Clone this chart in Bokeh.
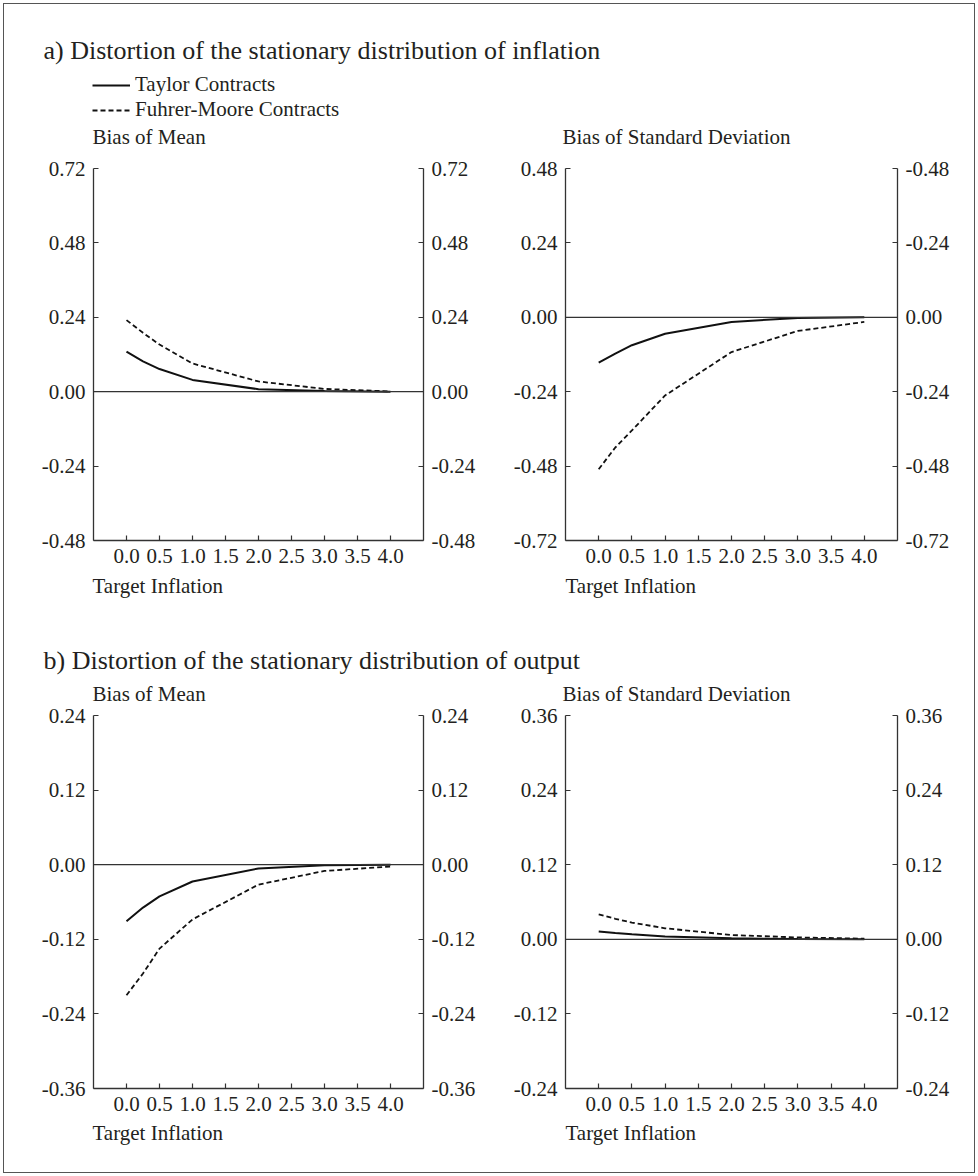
from bokeh.plotting import figure
from bokeh.models import (Range1d, LinearAxis, FixedTicker, NumeralTickFormatter, Span,
                          Label, Legend, LegendItem, ColumnDataSource)
from bokeh.layouts import column, row
from bokeh.embed import file_html
from bokeh.resources import INLINE

# ---------------- data ----------------
target_inflation = [0.0, 0.25, 0.5, 1.0, 2.0, 3.0, 4.0]
x_ticks = [0.0, 0.5, 1.0, 1.5, 2.0, 2.5, 3.0, 3.5, 4.0]

infl_mean_taylor = [0.129, 0.098, 0.073, 0.038, 0.008, 0.002, 0.000]
infl_mean_fm = [0.231, 0.190, 0.152, 0.091, 0.033, 0.009, 0.001]
infl_sd_taylor = [-0.146, -0.117, -0.090, -0.053, -0.015, -0.002, 0.000]
infl_sd_fm = [-0.490, -0.420, -0.365, -0.252, -0.112, -0.044, -0.015]
out_mean_taylor = [-0.091, -0.069, -0.051, -0.027, -0.006, -0.001, 0.000]
out_mean_fm = [-0.210, -0.175, -0.135, -0.088, -0.032, -0.010, -0.003]
out_sd_taylor = [0.0125, 0.010, 0.008, 0.0045, 0.0015, 0.0005, 0.000]
out_sd_fm = [0.040, 0.033, 0.027, 0.0177, 0.0069, 0.003, 0.001]

yticks_infl_mean = [-0.48, -0.24, 0.0, 0.24, 0.48, 0.72]
yticks_infl_sd = [-0.72, -0.48, -0.24, 0.0, 0.24, 0.48]
yticks_out_mean = [-0.36, -0.24, -0.12, 0.0, 0.12, 0.24]
yticks_out_sd = [-0.24, -0.12, 0.0, 0.12, 0.24, 0.36]
infl_sd_right_labels = {0.48: "-0.48", 0.24: "-0.24"}

title_a = "a) Distortion of the stationary distribution of inflation"
title_b = "b) Distortion of the stationary distribution of output"
legend_labels = ["Taylor Contracts", "Fuhrer-Moore Contracts"]
sub_mean = "Bias of Mean"
sub_sd = "Bias of Standard Deviation"
x_label = "Target Inflation"

# ---------------- style ----------------
FONT = "Liberation Serif"
TXT = "#231f20"
AX = "#333333"
LINE = "#111111"
FS = "21px"
TFS = "26px"
NAN = float("nan")


def style_axis(ax, ticks, fmt, overrides=None):
    ax.ticker = FixedTicker(ticks=ticks)
    ax.formatter = NumeralTickFormatter(format=fmt)
    ax.axis_line_color = AX
    ax.axis_line_width = 1.3
    ax.major_tick_in = 5
    ax.major_tick_out = 0
    ax.major_tick_line_color = AX
    ax.major_tick_line_width = 1.2
    ax.minor_tick_line_color = None
    ax.major_label_text_font = FONT
    ax.major_label_text_font_size = FS
    ax.major_label_text_color = TXT
    ax.major_label_standoff = 8
    if overrides:
        ax.major_label_overrides = overrides


def txt(x, y, text, size=FS):
    return Label(x=x, y=y, text=text, text_font=FONT, text_font_size=size,
                 text_color=TXT, text_baseline="middle", text_align="left")


def panel(width, height, left, right, top, bottom, yr, yticks, taylor, fm, right_over=None):
    p = figure(width=width, height=height, x_range=Range1d(-0.5, 4.5),
               y_range=Range1d(*yr), output_backend="svg", toolbar_location=None,
               min_border_left=left, min_border_right=right, min_border_top=top,
               min_border_bottom=bottom, x_axis_type=None, y_axis_type=None)
    p.outline_line_color = None
    p.background_fill_color = "white"
    p.border_fill_color = None
    xa = LinearAxis()
    style_axis(xa, x_ticks, "0.0")
    p.add_layout(xa, "below")
    ya = LinearAxis()
    style_axis(ya, yticks, "0.00")
    p.add_layout(ya, "left")
    yb = LinearAxis()
    style_axis(yb, yticks, "0.00", right_over)
    p.add_layout(yb, "right")
    p.add_layout(Span(location=0, dimension="width", line_color=AX, line_width=1.2))
    p.line(target_inflation, taylor, line_color=LINE, line_width=2)
    p.line(target_inflation, fm, line_color=LINE, line_width=1.8, line_dash="5 3")
    return p


def strip(height):
    h = figure(width=978, height=height, x_range=Range1d(0, 978), y_range=Range1d(0, height),
               output_backend="svg", toolbar_location=None, x_axis_type=None,
               y_axis_type=None, min_border=0)
    h.outline_line_color = None
    h.background_fill_color = None
    h.border_fill_color = None
    return h


# header 1: page y 0..150
h1 = strip(150)
h1.add_layout(txt(43, 150 - 50, title_a, size=TFS))
h1.add_layout(txt(92, 150 - 136, sub_mean))
h1.add_layout(txt(562, 150 - 136, sub_sd))
r1 = h1.line("x", "y", source=ColumnDataSource(dict(x=[NAN, NAN], y=[NAN, NAN])),
             line_color=LINE, line_width=2)
r2 = h1.line("x", "y", source=ColumnDataSource(dict(x=[NAN, NAN], y=[NAN, NAN])),
             line_color=LINE, line_width=1.8, line_dash="5 3")
leg = Legend(items=[LegendItem(label=legend_labels[0], renderers=[r1]),
                    LegendItem(label=legend_labels[1], renderers=[r2])],
             location=(92, 150 - 122), orientation="vertical", glyph_width=38,
             glyph_height=24, label_height=24, spacing=0, padding=0, margin=0,
             label_standoff=5, border_line_color=None, background_fill_alpha=0,
             label_text_font=FONT, label_text_font_size=FS, label_text_color=TXT)
h1.add_layout(leg)

# row 1: page y 150..570, frame 168..540
p1 = panel(493, 420, 93, 70, 18, 30, (-0.48, 0.72), yticks_infl_mean,
           infl_mean_taylor, infl_mean_fm)
p2 = panel(485, 420, 72, 81, 18, 30, (-0.72, 0.48), yticks_infl_sd,
           infl_sd_taylor, infl_sd_fm, right_over=infl_sd_right_labels)

# header 2: page y 570..704
h2 = strip(134)
h2.add_layout(txt(92, 704 - 585, x_label))
h2.add_layout(txt(565, 704 - 585, x_label))
h2.add_layout(txt(43, 704 - 660, title_b, size=TFS))
h2.add_layout(txt(92, 704 - 693, sub_mean))
h2.add_layout(txt(562, 704 - 693, sub_sd))

# row 2: page y 704..1118, frame 715..1088
p3 = panel(493, 414, 93, 70, 11, 30, (-0.36, 0.24), yticks_out_mean,
           out_mean_taylor, out_mean_fm)
p4 = panel(485, 414, 72, 81, 11, 30, (-0.24, 0.36), yticks_out_sd,
           out_sd_taylor, out_sd_fm)

# footer: page y 1118..1176
f1 = strip(58)
f1.add_layout(txt(92, 1176 - 1132, x_label))
f1.add_layout(txt(565, 1176 - 1132, x_label))

layout = column(h1, row(p1, p2), h2, row(p3, p4), f1,
                styles={"outline": "1.5px solid #555555", "outline-offset": "-4.5px",
                        "background": "white"})

open("out.html", "w").write(file_html(layout, INLINE))
